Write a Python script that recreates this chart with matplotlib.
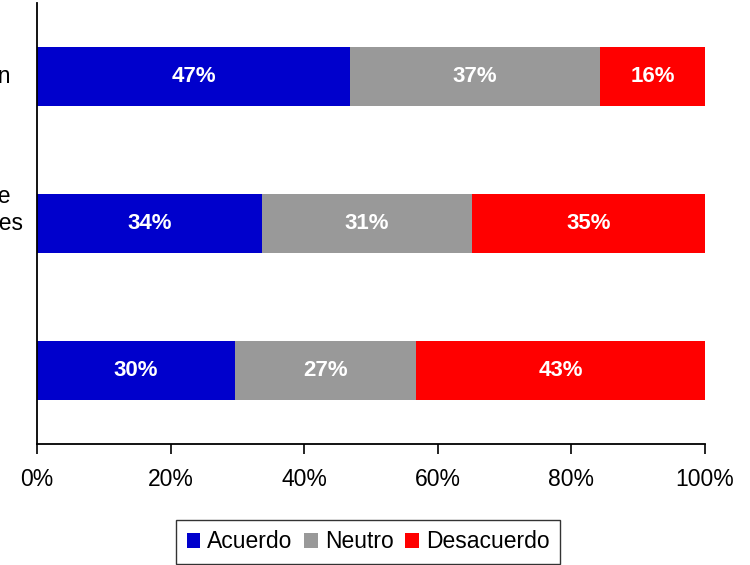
import matplotlib
matplotlib.use("Agg")
import matplotlib.pyplot as plt
import matplotlib.transforms as mtransforms
import numpy as np

plt.rcParams['font.family'] = ['Liberation Sans', 'DejaVu Sans']

# categories top to bottom (labels run off the left edge of the picture)
categories = ["Nivel de motivación",
              "Apoyo de parte\nde sus superiores\ninmediatos",
              "Clima laboral"]
series = ["Acuerdo", "Neutro", "Desacuerdo"]
acuerdo = [46.9, 33.7, 29.6]
neutro = [37.4, 31.4, 27.1]
desacuerdo = [15.7, 34.9, 43.3]
label_acuerdo = ["47%", "34%", "30%"]
label_neutro = ["37%", "31%", "27%"]
label_desacuerdo = ["16%", "35%", "43%"]
xticks = [0, 20, 40, 60, 80, 100]
xticklabels = ["0%", "20%", "40%", "60%", "80%", "100%"]

colors = ["#0000CC", "#999999", "#FF0000"]

fig = plt.figure(figsize=(7.5, 5.65), dpi=100)
ax = fig.add_axes([37/750, 1 - 444/565, (705-37)/750, 441/565])

y = np.arange(len(categories))
left = np.zeros(len(categories))
for vals, labs, col, name in zip([acuerdo, neutro, desacuerdo],
                                 [label_acuerdo, label_neutro, label_desacuerdo],
                                 colors, series):
    vals = np.array(vals)
    ax.barh(y, vals, left=left, height=0.4, color=col, label=name)
    for yi, l, v, t in zip(y, left, vals, labs):
        ax.text(l + v/2, yi, t, ha='center', va='center', color='white',
                fontsize=16, fontweight='bold')
    left = left + vals

ax.set_xlim(0, 100)
ax.set_ylim(len(categories) - 0.5, -0.5)
ax.set_xticks(xticks)
ax.set_xticklabels(xticklabels, fontsize=16.5)
ax.set_yticks([])
ax.tick_params(axis='x', direction='out', length=7, width=1.2, pad=10)
for s in ['top', 'right']:
    ax.spines[s].set_visible(False)
for s in ['left', 'bottom']:
    ax.spines[s].set_linewidth(1.3)

# category labels, right edges placed in figure pixels (mostly clipped, as in the original)
trans = mtransforms.blended_transform_factory(fig.transFigure, ax.transData)
label_right_px = [10, 23, -5]
for yi, cat, px in zip(y, categories, label_right_px):
    ax.text(px/750, yi, cat, transform=trans, ha='right', va='center',
            multialignment='center', fontsize=16.5, linespacing=1.25,
            clip_on=False)

leg = fig.legend(loc='center', bbox_to_anchor=(368/750, 1 - 542/565), ncol=3,
                 fontsize=16.5, frameon=True, fancybox=False, handlelength=0.6,
                 handleheight=0.6, handletextpad=0.3, columnspacing=0.5,
                 borderpad=0.45, borderaxespad=0)
leg.get_frame().set_edgecolor('black')
leg.get_frame().set_linewidth(1.0)

fig.savefig("out.png", dpi=100)
